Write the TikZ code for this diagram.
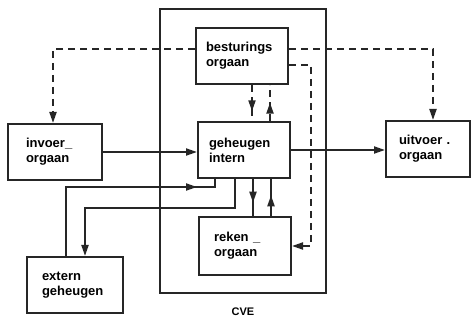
\documentclass[tikz,border=0pt]{standalone}
\usepackage{fontspec}
\setmainfont{Liberation Sans}
\usetikzlibrary{arrows.meta,decorations.markings,calc}
\begin{document}
\begin{tikzpicture}[x=1pt,y=-1pt,
  line width=2pt, draw={black!85},
  tip/.tip={Triangle[length=11pt,width=7pt]},
  box/.style={draw, rectangle, align=left, font=\bfseries\fontsize{13}{15}\selectfont, inner ysep=0pt},
  dsh/.style={dash pattern=on 7pt off 5pt},
  midarrow/.style={postaction={decorate},decoration={markings,mark=at position #1 with {\arrow{tip}}}}]
\useasboundingbox (0,0) rectangle (474,323);
\node[draw, rectangle, minimum width=166pt, minimum height=284pt, inner sep=0pt] (cve) at (243,151) {};
\node[font=\bfseries\fontsize{11}{13}\selectfont] (cvel) at (243,312) {CVE};
\node[box, minimum height=56pt, inner xsep=10pt, text width=72pt] (bes) at (242,56) {besturings\\orgaan};
\node[box, minimum height=56pt, inner xsep=11pt, text width=70pt] (geh) at (244,150) {geheugen\\intern};
\node[box, minimum height=58pt, inner xsep=15pt, text width=62pt] (rek) at (245,246) {reken \_\\orgaan};
\node[box, minimum height=56pt, inner xsep=18pt, text width=58pt] (inv) at (55,152) {invoer\_\\orgaan};
\node[box, minimum height=56pt, inner xsep=15pt, text width=66pt] (ext) at (75,285) {extern\\geheugen};
\node[box, minimum height=56pt, inner xsep=13pt, text width=58pt] (uit) at (428,149) {uitvoer .\\orgaan};
% dashed control lines
\draw[dsh,-tip] ([yshift=7pt]bes.west) -| ([xshift=-2pt]inv.north);
\draw[dsh,-tip] ([yshift=7pt]bes.east) -| ([xshift=5pt]uit.north);
\draw[dsh,-tip] ([yshift=-9pt]bes.east) -| ([xshift=19pt]rek.east) -- (rek.east);
\draw[dsh,midarrow=0.73] ([xshift=10pt]bes.south) -- ([xshift=10pt]bes.south |- geh.north);
\draw[dsh,midarrow=0.51] ([xshift=28pt]bes.south |- geh.north) -- ([xshift=28pt]bes.south);
% solid data lines
\draw[-tip] (inv.east) -- (inv.east -| geh.west);
\draw[-tip] (geh.east) -- (geh.east -| uit.west);
\draw[midarrow=200pt] ([xshift=-9pt]ext.north) -- ++(0,-69) -| ([xshift=-29pt]geh.south);
\draw[-tip] ([xshift=-9pt]geh.south) -- ++(0,29) -| ([xshift=10pt]ext.north);
\draw[midarrow=0.64] ([xshift=9pt]geh.south) -- ([xshift=9pt]geh.south |- rek.north);
\draw[midarrow=0.56] ([xshift=27pt]geh.south |- rek.north) -- ([xshift=27pt]geh.south);
\end{tikzpicture}
\end{document}
